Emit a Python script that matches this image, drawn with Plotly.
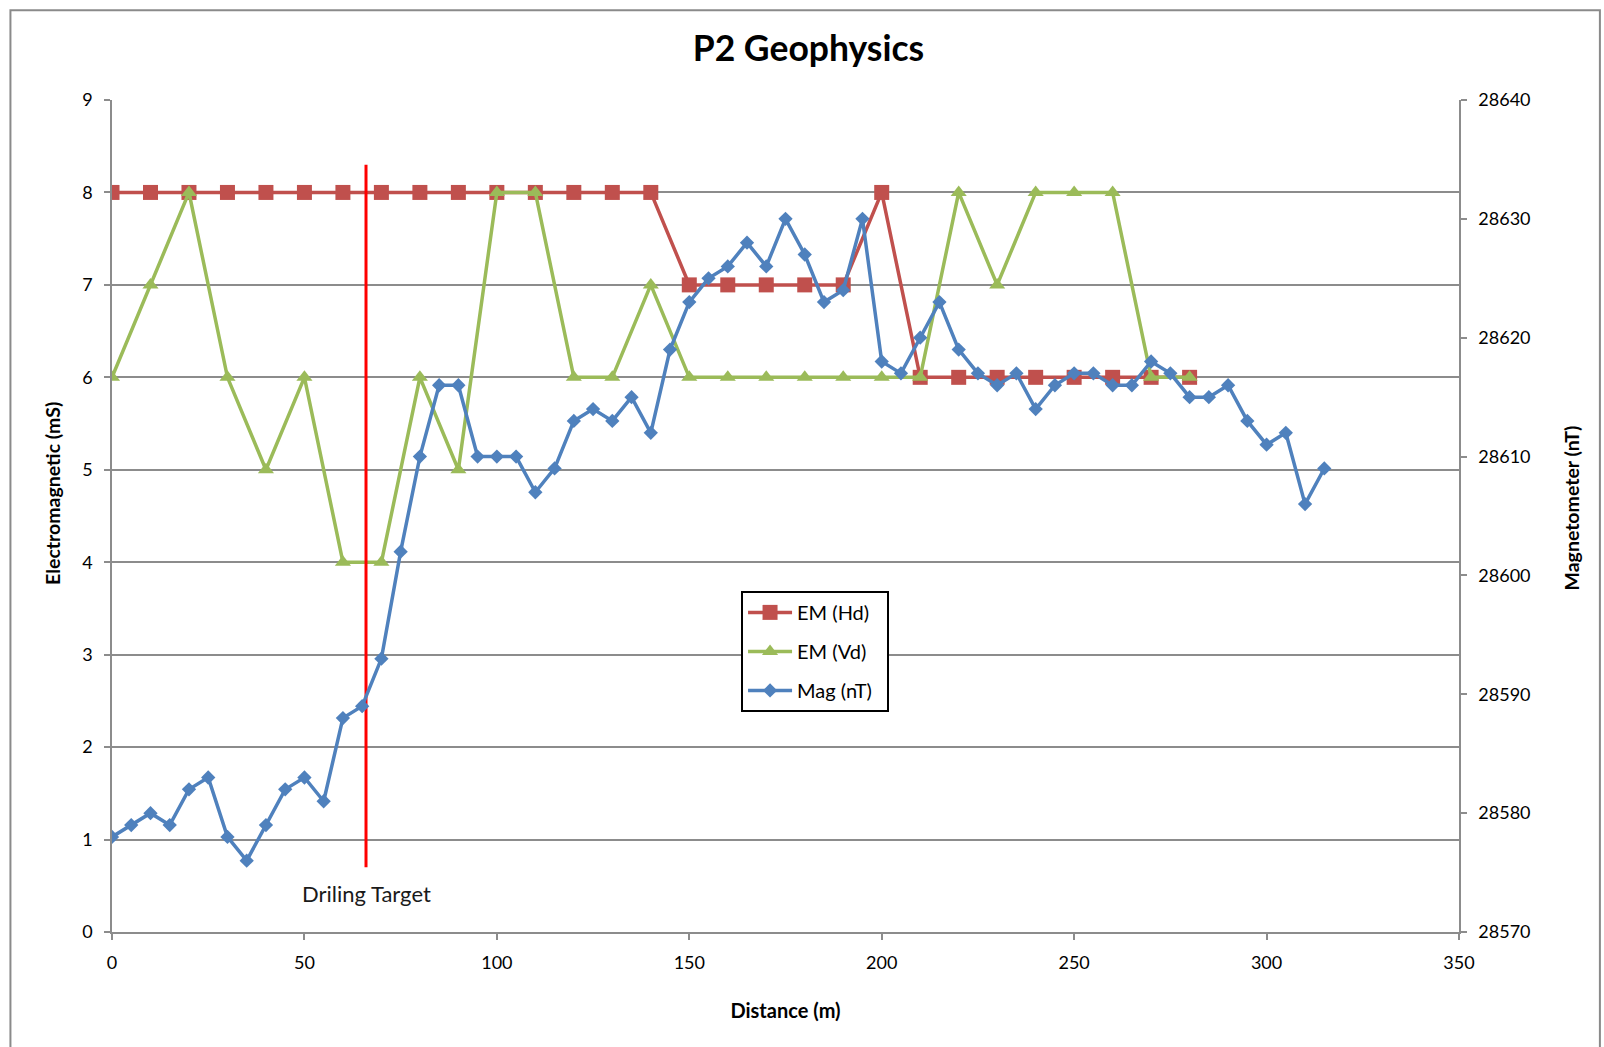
import plotly.graph_objects as go

# Survey stations along line P2 (metres)
em_distance = [0, 10, 20, 30, 40, 50, 60, 70, 80, 90, 100, 110, 120, 130, 140,
               150, 160, 170, 180, 190, 200, 210, 220, 230, 240, 250, 260, 270, 280]
em_hd = [8, 8, 8, 8, 8, 8, 8, 8, 8, 8, 8, 8, 8, 8, 8,
         7, 7, 7, 7, 7, 8, 6, 6, 6, 6, 6, 6, 6, 6]
em_vd = [6, 7, 8, 6, 5, 6, 4, 4, 6, 5, 8, 8, 6, 6, 7,
         6, 6, 6, 6, 6, 6, 6, 8, 7, 8, 8, 8, 6, 6]

mag_distance = [0, 5, 10, 15, 20, 25, 30, 35, 40, 45, 50, 55, 60, 65, 70, 75,
                80, 85, 90, 95, 100, 105, 110, 115, 120, 125, 130, 135, 140, 145,
                150, 155, 160, 165, 170, 175, 180, 185, 190, 195, 200, 205, 210,
                215, 220, 225, 230, 235, 240, 245, 250, 255, 260, 265, 270, 275,
                280, 285, 290, 295, 300, 305, 310, 315]
mag_nt = [28578, 28579, 28580, 28579, 28582, 28583, 28578, 28576, 28579, 28582,
          28583, 28581, 28588, 28589, 28593, 28602, 28610, 28616, 28616, 28610,
          28610, 28610, 28607, 28609, 28613, 28614, 28613, 28615, 28612, 28619,
          28623, 28625, 28626, 28628, 28626, 28630, 28627, 28623, 28624, 28630,
          28618, 28617, 28620, 28623, 28619, 28617, 28616, 28617, 28614, 28616,
          28617, 28617, 28616, 28616, 28618, 28617, 28615, 28615, 28616, 28613,
          28611, 28612, 28606, 28609]

# Drilling target marker (distance, EM extent of the line)
target_distance = 66
target_em_extent = [0.7, 8.3]
target_label = "Driling Target"
target_label_em = 0.42

em_ticks = list(range(0, 10))
mag_ticks = list(range(28570, 28650, 10))
dist_ticks = list(range(0, 400, 50))

FONT = "Lato, 'Open Sans', sans-serif"
GRID = "#8c8c8c"
RED, GREEN, BLUE = "#C0504D", "#9BBB59", "#4F81BD"

fig = go.Figure()

fig.add_trace(go.Scatter(
    x=em_distance, y=em_hd, name="EM (Hd)  ", mode="lines+markers",
    line=dict(color=RED, width=3.5),
    marker=dict(symbol="square", size=15, color=RED),
    legendgroup="hd"))
fig.add_trace(go.Scatter(
    x=em_distance, y=em_vd, name="EM (Vd)  ", mode="lines+markers",
    line=dict(color=GREEN, width=3.5),
    marker=dict(symbol="triangle-up", size=14, color=GREEN),
    legendgroup="vd"))
fig.add_trace(go.Scatter(
    x=[target_distance, target_distance], y=target_em_extent,
    mode="lines", line=dict(color="#FF0000", width=3),
    showlegend=False, hoverinfo="skip"))
fig.add_trace(go.Scatter(
    x=mag_distance, y=mag_nt, name="Mag (nT)  ", mode="lines+markers",
    line=dict(color=BLUE, width=3.5),
    marker=dict(symbol="diamond", size=11, color=BLUE),
    yaxis="y2", legendgroup="mag"))

fig.add_annotation(
    x=target_distance, y=target_label_em, text=target_label,
    showarrow=False, xanchor="center", yanchor="middle",
    font=dict(family=FONT, size=22, color="#1a1a1a"))

# Vertical axis titles
fig.add_annotation(
    xref="paper", yref="paper", x=-0.0442, y=0.527,
    text="<b>Electromagnetic (mS)</b>", textangle=-90, showarrow=False,
    xanchor="center", yanchor="middle",
    font=dict(family=FONT, size=19.5, color="#000000"))
fig.add_annotation(
    xref="paper", yref="paper", x=1.0835, y=0.5096,
    text="<b>Magnetometer (nT)</b>", textangle=-90, showarrow=False,
    xanchor="center", yanchor="middle",
    font=dict(family=FONT, size=19.5, color="#000000"))

# Outer chart frame
fig.add_shape(type="rect", xref="paper", yref="paper",
              x0=-0.0754, x1=1.1046, y0=-0.15, y1=1.108,
              line=dict(color="#8a8a8a", width=2), layer="below")

axis_common = dict(
    showline=True, linecolor=GRID, linewidth=1.5,
    ticks="outside", ticklen=6, tickcolor=GRID, tickwidth=1.5,
    tickfont=dict(family=FONT, size=18, color="#000000"),
    zeroline=False)

fig.update_layout(
    width=1604, height=1047,
    margin=dict(l=112, r=145, t=100, b=115),
    paper_bgcolor="white", plot_bgcolor="white",
    font=dict(family=FONT, color="#000000"),
    title=dict(text="<b>P2 Geophysics</b>", x=0.504, xref="container",
               y=0.954, yanchor="middle", xanchor="center",
               font=dict(family=FONT, size=35.5, color="#000000")),
    xaxis=dict(range=[0, 350], tickvals=dist_ticks, showgrid=False,
               title=dict(text="<b>Distance (m)</b>", standoff=32,
                          font=dict(family=FONT, size=20)),
               ticklabelstandoff=8, **axis_common),
    yaxis=dict(range=[0, 9], tickvals=em_ticks, showgrid=True,
               gridcolor=GRID, gridwidth=1.5,
               ticklabelstandoff=8, **axis_common),
    yaxis2=dict(range=[28570, 28640], tickvals=mag_ticks, overlaying="y",
                side="right", showgrid=False, tickformat="d",
                ticklabelstandoff=8, **axis_common),
    legend=dict(x=0.467, y=0.41, xanchor="left", yanchor="top",
                bgcolor="white", bordercolor="#000000", borderwidth=2,
                font=dict(family=FONT, size=20, color="#000000"),
                tracegroupgap=10, itemwidth=44),
    showlegend=True,
)

fig.write_html("out.html")
